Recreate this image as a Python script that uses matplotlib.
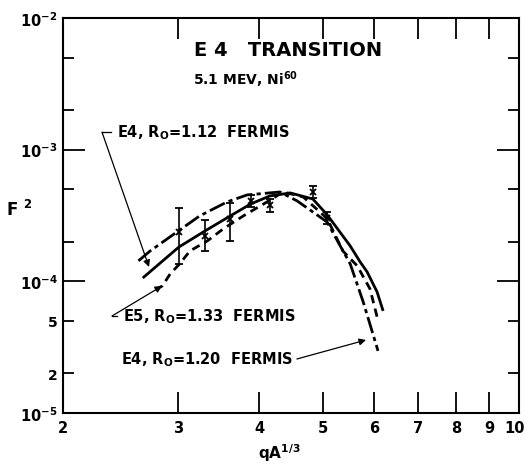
import numpy as np
import matplotlib
matplotlib.use("Agg")
from matplotlib import pyplot as plt
from matplotlib import transforms

plt.rcParams['font.family'] = 'DejaVu Sans'
plt.rcParams['mathtext.default'] = 'regular'

# E4, R0=1.12 fermis (solid)
e4_112_x = [2.65, 3.01, 3.30, 3.61, 3.88, 4.15, 4.46, 4.83, 5.08, 5.51, 5.71, 5.85, 6.06, 6.19]
e4_112_y = [1.06e-4, 1.82e-4, 2.41e-4, 3.14e-4, 3.87e-4, 4.45e-4, 4.69e-4, 4.22e-4, 3.2e-4,
            1.86e-4, 1.40e-4, 1.18e-4, 8.3e-5, 5.96e-5]

# E4, R0=1.20 fermis (dash-dot)
e4_120_x = [2.61, 2.72, 2.99, 3.24, 3.57, 3.83, 4.30, 4.57, 5.08, 5.32, 5.51, 5.77, 6.08]
e4_120_y = [1.43e-4, 1.70e-4, 2.37e-4, 3.14e-4, 4.01e-4, 4.53e-4, 4.77e-4, 4.08e-4, 2.82e-4,
            1.86e-4, 1.36e-4, 6.98e-5, 2.96e-5]

# E5, R0=1.33 fermis (dashed)
e5_133_x = [2.77, 2.84, 2.92, 3.02, 3.13, 3.33, 3.52, 3.78, 4.11, 4.35, 4.67, 5.08, 5.37, 5.65, 5.91, 6.06]
e5_133_y = [8.61e-5, 9.23e-5, 1.14e-4, 1.36e-4, 1.70e-4, 2.03e-4, 2.50e-4, 3.14e-4, 4.01e-4,
            4.77e-4, 4.37e-4, 3.0e-4, 1.70e-4, 1.31e-4, 8.76e-5, 5.37e-5]

# measured points with error bars
pts_x = [3.01, 3.30, 3.61, 3.88, 4.15, 4.83, 5.08]
pts_y = [2.37e-4, 2.21e-4, 2.98e-4, 4.08e-4, 3.80e-4, 4.77e-4, 3.03e-4]
pts_lo = [1.36e-4, 1.70e-4, 2.03e-4, 3.67e-4, 3.37e-4, 4.30e-4, 2.73e-4]
pts_hi = [3.61e-4, 2.92e-4, 3.94e-4, 4.53e-4, 4.22e-4, 5.30e-4, 3.37e-4]

xticks = [2, 3, 4, 5, 6, 7, 8, 9, 10]
yticks_major = [1e-5, 1e-4, 1e-3, 1e-2]
yticks_minor = [2e-5, 5e-5, 2e-4, 5e-4, 2e-3, 5e-3]
yminor_labels = ['2', '5', '', '', '', '']

fig = plt.figure(figsize=(5.26, 4.64), dpi=100)
ax = fig.add_axes([0.1198, 0.1078, 0.8669, 0.8513])
ax.set_xscale('log')
ax.set_yscale('log')
ax.set_xlim(2, 10)
ax.set_ylim(1e-5, 1e-2)

ax.plot(e4_112_x, e4_112_y, color='black', lw=2.0, solid_capstyle='butt')
ax.plot(e4_120_x, e4_120_y, color='black', lw=2.0, dashes=(6, 1.5, 1.5, 1.5))
ax.plot(e5_133_x, e5_133_y, color='black', lw=2.0, dashes=(3, 2))

pts_y = np.array(pts_y)
yerr = [pts_y - np.array(pts_lo), np.array(pts_hi) - pts_y]
ax.errorbar(pts_x, pts_y, yerr=yerr, fmt='x', color='black', ms=5, mew=1.3,
            elinewidth=1.2, capsize=3, capthick=1.2)

# ticks
ax.xaxis.set_major_locator(matplotlib.ticker.FixedLocator(xticks))
ax.xaxis.set_minor_locator(matplotlib.ticker.NullLocator())
ax.set_xticklabels([str(t) for t in xticks])
ax.yaxis.set_major_locator(matplotlib.ticker.FixedLocator(yticks_major))
ax.yaxis.set_minor_locator(matplotlib.ticker.FixedLocator(yticks_minor))
ax.set_yticklabels(['$10^{-5}$', '$10^{-4}$', '$10^{-3}$', '$10^{-2}$'])
ax.set_yticklabels(yminor_labels, minor=True)
ax.tick_params(which='both', direction='in', top=True, right=True, width=1.3,
               labelsize=10.5, colors='black')
ax.tick_params(axis='x', which='major', length=15, pad=5)
ax.tick_params(axis='y', which='major', length=16, pad=4)
ax.tick_params(axis='y', which='minor', length=8, pad=4, labelsize=10)
for lab in ax.get_xticklabels() + ax.get_yticklabels() + ax.get_yticklabels(minor=True):
    lab.set_fontweight('bold')
# keep the "10" inside the picture
last = ax.get_xticklabels()[-1]
last.set_transform(last.get_transform() + transforms.ScaledTranslation(-4 / 100, 0, fig.dpi_scale_trans))
for s in ax.spines.values():
    s.set_linewidth(1.5)

fig.text(0.532, 0.024, 'qA$^{1/3}$', fontsize=11, fontweight='bold', ha='center', va='center')
fig.text(0.012, 0.548, 'F $^2$', fontsize=12, fontweight='bold', va='center')

ax.text(0.493, 0.919, 'E 4   TRANSITION', transform=ax.transAxes, fontsize=14,
        fontweight='bold', ha='center', va='center')
ax.text(0.285, 0.846, '5.1 MEV, Ni$^{60}$', transform=ax.transAxes, fontsize=10,
        fontweight='bold', ha='left', va='center')

# annotations
lab_kw = dict(transform=ax.transAxes, fontsize=10.5, fontweight='bold', va='center')
arrow = dict(arrowstyle='-|>', color='black', lw=0.9, mutation_scale=10, shrinkA=0, shrinkB=0)

ax.text(0.118, 0.711, 'E4, R$_O$=1.12  FERMIS', ha='left', **lab_kw)
ax.plot([0.105, 0.0855], [0.711, 0.711], color='black', lw=0.9, transform=ax.transAxes)
ax.annotate('', xy=(0.1886, 0.3696), xytext=(0.0855, 0.711), xycoords='axes fraction',
            arrowprops=arrow)

ax.text(0.1316, 0.2456, 'E5, R$_O$=1.33  FERMIS', ha='left', **lab_kw)
ax.plot([0.118, 0.1075], [0.2456, 0.2456], color='black', lw=0.9, transform=ax.transAxes)
ax.annotate('', xy=(0.2171, 0.3215), xytext=(0.1075, 0.2456), xycoords='axes fraction',
            arrowprops=arrow)

ax.text(0.5044, 0.1367, 'E4, R$_O$=1.20  FERMIS', ha='right', **lab_kw)
ax.annotate('', xy=(0.6645, 0.1848), xytext=(0.513, 0.1367), xycoords='axes fraction',
            arrowprops=arrow)

fig.savefig('out.png', dpi=100)
